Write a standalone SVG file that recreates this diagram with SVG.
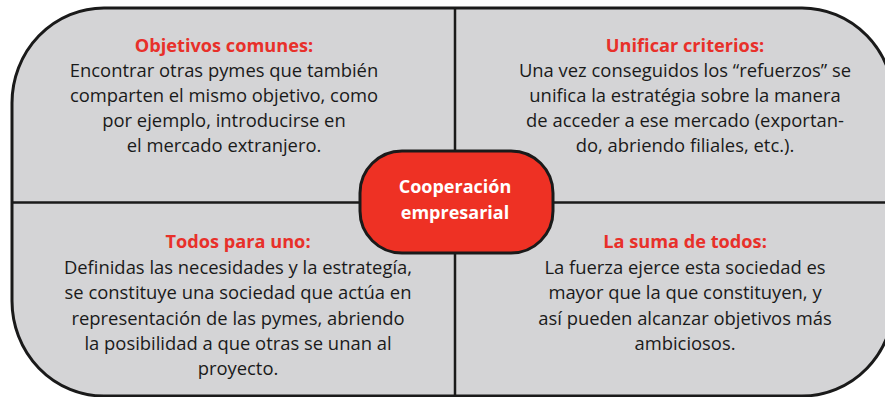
<svg xmlns="http://www.w3.org/2000/svg" width="885" height="397" viewBox="0 0 885 397">
<style>
.t{font-family:"Open Sans","Noto Sans","Liberation Sans",sans-serif;font-size:18.4px;fill:#1a1a1a;text-anchor:middle}
.h{font-weight:bold;fill:#e8302a;font-size:18.2px}
.c{font-family:"Open Sans","Noto Sans","Liberation Sans",sans-serif;font-size:18px;font-weight:bold;fill:#ffffff;text-anchor:middle}
.ln{stroke:#1a1a1a;stroke-width:2.5;fill:none}
</style>
<rect x="0" y="0" width="885" height="397" fill="#ffffff"/>
<g id="frame">
<rect x="12" y="8" width="882" height="388" rx="92" ry="95" fill="#d4d4d6" stroke="#1a1a1a" stroke-width="3"/>
</g>
<g id="connectors">
<line class="ln" x1="455" y1="8" x2="455" y2="396"/>
<line class="ln" x1="12" y1="202.5" x2="894" y2="202.5"/>
</g>
<g id="center">
<rect x="360" y="151" width="193" height="102" rx="42" ry="42" fill="#ee3124" stroke="#1a1a1a" stroke-width="3"/>
<text class="c" x="455" y="193">Cooperación</text>
<text class="c" x="455" y="219">empresarial</text>
</g>
<g id="objetivos">
<text class="t h" x="224" y="52">Objetivos comunes:</text>
<text class="t" x="224" y="77">Encontrar otras pymes que también</text>
<text class="t" x="224" y="102">comparten el mismo objetivo, como</text>
<text class="t" x="224" y="127">por ejemplo, introducirse en</text>
<text class="t" x="224" y="152">el mercado extranjero.</text>
</g>
<g id="unificar">
<text class="t h" x="685" y="52">Unificar criterios:</text>
<text class="t" x="685" y="77">Una vez conseguidos los “refuerzos” se</text>
<text class="t" x="685" y="102">unifica la estratégia sobre la manera</text>
<text class="t" x="685" y="127">de acceder a ese mercado (exportan-</text>
<text class="t" x="685" y="152">do, abriendo filiales, etc.).</text>
</g>
<g id="todos">
<text class="t h" x="238" y="248">Todos para uno:</text>
<text class="t" x="238" y="274">Definidas las necesidades y la estrategía,</text>
<text class="t" x="238" y="299">se constituye una sociedad que actúa en</text>
<text class="t" x="238" y="325">representación de las pymes, abriendo</text>
<text class="t" x="238" y="350">la posibilidad a que otras se unan al</text>
<text class="t" x="238" y="375">proyecto.</text>
</g>
<g id="suma">
<text class="t h" x="685" y="248">La suma de todos:</text>
<text class="t" x="685" y="274">La fuerza ejerce esta sociedad es</text>
<text class="t" x="685" y="299">mayor que la que constituyen, y</text>
<text class="t" x="685" y="325">así pueden alcanzar objetivos más</text>
<text class="t" x="685" y="350">ambiciosos.</text>
</g>
</svg>
